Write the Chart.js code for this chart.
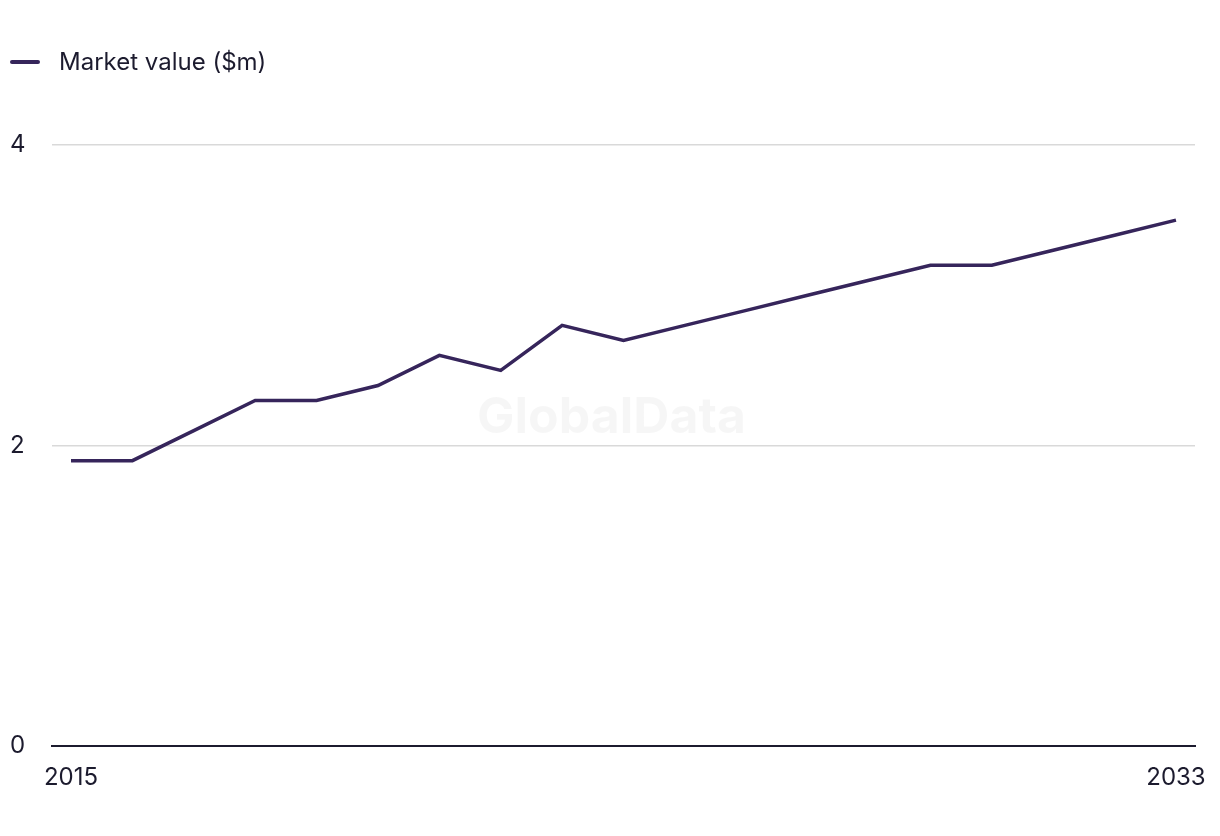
<!DOCTYPE html>
<html>
<head>
<meta charset="utf-8">
<script src="https://cdn.jsdelivr.net/npm/chart.js@4"></script>
<style>
  html, body { margin: 0; padding: 0; background: #fff; }
  #wrap { position: relative; width: 1220px; height: 836px; }
  #legend { position: absolute; left: 10px; top: 47px; display: flex; align-items: center;
            font-family: Inter, "Noto Sans", sans-serif; font-size: 24px; color: #1c1b2e; }
  #legend .swatch { width: 30px; height: 4px; border-radius: 2px; background: #36255b; margin-right: 19px; }
</style>
</head>
<body>
<div id="wrap">
  <div id="legend"><span class="swatch"></span><span>Market value ($m)</span></div>
  <canvas id="chart" width="1220" height="836"></canvas>
</div>
<script>
// dữ liệu
const years = [2015, 2016, 2017, 2018, 2019, 2020, 2021, 2022, 2023, 2024,
               2025, 2026, 2027, 2028, 2029, 2030, 2031, 2032, 2033];
const marketValue = [1.9, 1.9, 2.1, 2.3, 2.3, 2.4, 2.6, 2.5, 2.8, 2.7,
                     2.8, 2.9, 3.0, 3.1, 3.2, 3.2, 3.3, 3.4, 3.5];
const xTickYears = [2015, 2033];
const yTicks = [0, 2, 4];
const seriesLabel = 'Market value ($m)';

const fontFamily = 'Inter, "Noto Sans", sans-serif';
const textColor = '#1c1b2e';

// watermark mờ ở giữa
const watermark = {
    id: 'watermark',
    beforeDatasetsDraw(chart) {
        const { ctx, chartArea } = chart;
        ctx.save();
        ctx.font = 'bold 50px ' + fontFamily;
        ctx.fillStyle = 'rgba(0,0,0,0.035)';
        ctx.textAlign = 'center';
        ctx.textBaseline = 'middle';
        ctx.fillText('GlobalData', (chartArea.left + chartArea.right) / 2 - 12, 418);
        ctx.restore();
    }
};

const ctx = document.getElementById('chart').getContext('2d');
new Chart(ctx, {
    type: 'line',
    data: {
        datasets: [{
            label: seriesLabel,
            data: years.map((y, i) => ({ x: y, y: marketValue[i] })),
            borderColor: '#36255b',
            borderWidth: 3.5,
            pointRadius: 0,
            tension: 0,
            fill: false
        }]
    },
    options: {
        responsive: false,
        animation: false,
        layout: { padding: { left: 10, right: 25, top: 145, bottom: 27 } },
        plugins: {
            legend: { display: false },
            tooltip: { enabled: false }
        },
        scales: {
            x: {
                type: 'linear',
                min: 2015 - 0.31,
                max: 2033 + 0.31,
                afterBuildTicks: axis => { axis.ticks = xTickYears.map(v => ({ value: v })); },
                afterFit: axis => { axis.paddingLeft = 0; axis.paddingRight = 0; },
                grid: { display: false, drawTicks: false },
                border: { display: true, color: textColor, width: 2 },
                ticks: {
                    padding: 17,
                    maxRotation: 0,
                    autoSkip: false,
                    color: textColor,
                    font: { family: fontFamily, size: 24 },
                    callback: v => String(v)
                }
            },
            y: {
                min: 0,
                max: 4,
                afterBuildTicks: axis => { axis.ticks = yTicks.map(v => ({ value: v })); },
                afterFit: axis => { axis.width = 42; },
                grid: { color: '#d9d9d9', lineWidth: 1.5, drawTicks: false },
                border: { display: false },
                ticks: {
                    crossAlign: 'far',
                    color: textColor,
                    font: { family: fontFamily, size: 24 }
                }
            }
        }
    },
    plugins: [watermark]
});
</script>
</body>
</html>
